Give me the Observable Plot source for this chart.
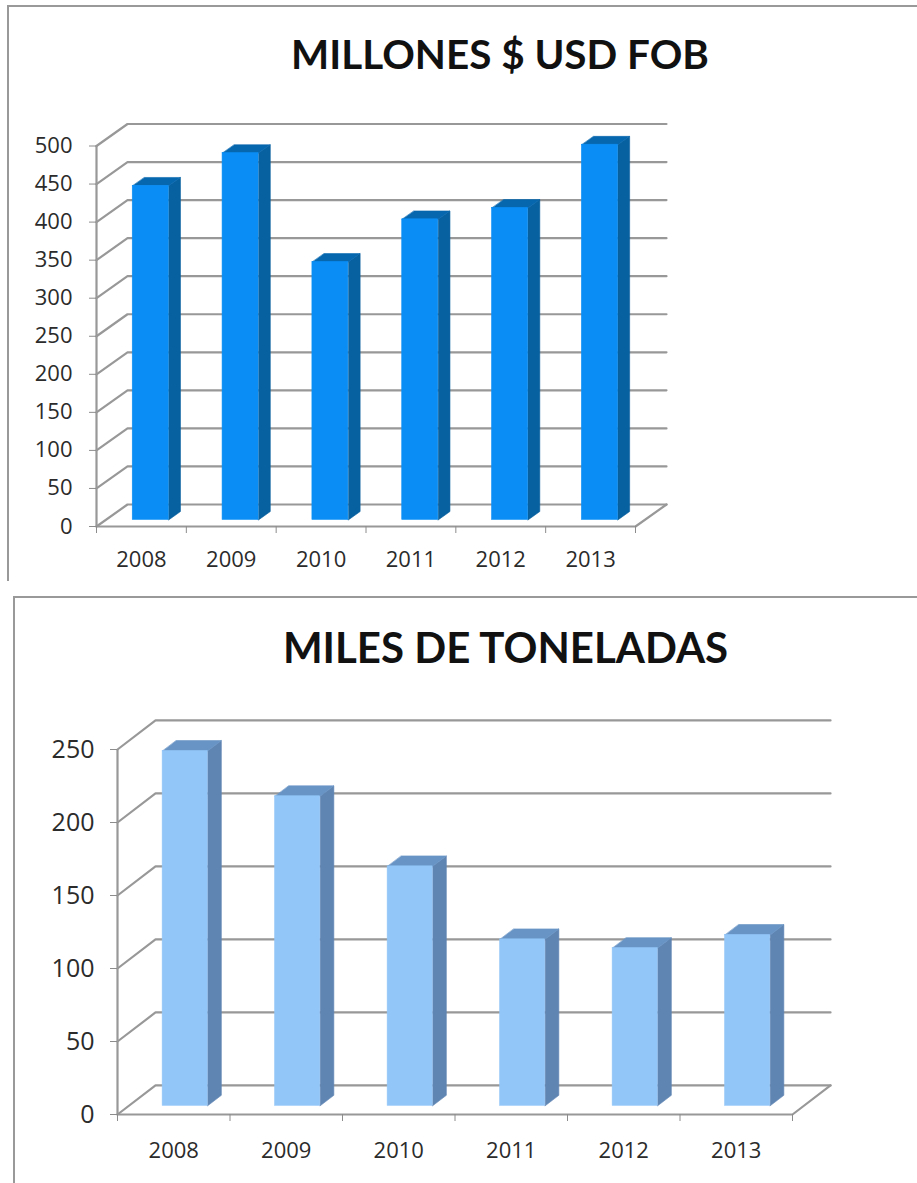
<!DOCTYPE html>
<html lang="es">
<head>
<meta charset="utf-8">
<title>Millones USD FOB y miles de toneladas</title>
<script src="https://cdn.jsdelivr.net/npm/d3@7"></script>
<script src="https://cdn.jsdelivr.net/npm/@observablehq/plot@0.6"></script>
<style>
  html, body { margin: 0; background: #fff; }
  #page { position: relative; width: 917px; height: 1183px; overflow: hidden; }
  .panel { position: absolute; box-sizing: border-box; border-left: 2px solid #999; border-top: 2px solid #999; }
  .panel-title { position: absolute; margin: 0; color: #111; font: 700 37px Lato, sans-serif; white-space: nowrap; transform: translateX(-50%); }
  .chart { position: absolute; left: 0; }
  .chart svg { display: block; }
</style>
</head>
<body>
<div id="page"></div>
<script>
const years = ["2008", "2009", "2010", "2011", "2012", "2013"];

const usdValues = [439, 482, 339, 395, 410, 493];
const usdTicks = [0, 50, 100, 150, 200, 250, 300, 350, 400, 450, 500];

const tonValues = [243, 212, 164, 114, 108, 117];
const tonTicks = [0, 50, 100, 150, 200, 250];

const page = document.getElementById("page");

// Column chart with an oblique 3D look: every face is a polygon in data units,
// with depth expressed as an offset along both scales.
function columnChart({values, ticks, top, height, marginLeft, marginRight, marginTop, marginBottom,
                      depthX, depthY, barDepth, front, side, cap, yFont, xFont, yPad, xPad}) {
  const yMax = ticks[ticks.length - 1];
  const slots = years.length;
  const barStart = 0.3, barEnd = 0.7, depthStart = 0.3;
  const near = depthStart, far = depthStart + barDepth;

  const bars = values.map((v, i) => ({i, v, year: years[i]}));
  const at = (t) => ({dx: t * depthX, dy: t * depthY});

  const sideFaces = bars.flatMap(({i, v}) => [
    {k: i, x: i + barEnd + at(near).dx, y: at(near).dy},
    {k: i, x: i + barEnd + at(far).dx, y: at(far).dy},
    {k: i, x: i + barEnd + at(far).dx, y: v + at(far).dy},
    {k: i, x: i + barEnd + at(near).dx, y: v + at(near).dy}
  ]);
  const capFaces = bars.flatMap(({i, v}) => [
    {k: i, x: i + barStart + at(near).dx, y: v + at(near).dy},
    {k: i, x: i + barEnd + at(near).dx, y: v + at(near).dy},
    {k: i, x: i + barEnd + at(far).dx, y: v + at(far).dy},
    {k: i, x: i + barStart + at(far).dx, y: v + at(far).dy}
  ]);
  const wallLines = ticks.flatMap((t) => [
    {k: t, x: 0, y: t},
    {k: t, x: depthX, y: t + depthY},
    {k: t, x: slots + depthX, y: t + depthY}
  ]);
  const floor = [
    {x: 0, y: 0}, {x: slots, y: 0}, {x: slots + depthX, y: depthY}
  ];

  const chart = Plot.plot({
    width: 917,
    height,
    marginLeft, marginRight, marginTop, marginBottom,
    style: {background: "transparent", overflow: "visible"},
    x: {type: "linear", domain: [0, slots]},
    y: {type: "linear", domain: [0, yMax]},
    marks: [
      Plot.line(wallLines, {x: "x", y: "y", z: "k", stroke: "#989898", strokeWidth: 2.2}),
      Plot.line(floor, {x: "x", y: "y", stroke: "#989898", strokeWidth: 2.2}),
      Plot.ruleX([0], {y1: 0, y2: yMax, stroke: "#989898", strokeWidth: 2.2}),
      Plot.axisY({
        ticks, tickSize: 7, tickPadding: yPad, stroke: "#8c8c8c", fill: "#2b2b2b",
        fontFamily: "'Open Sans', sans-serif", fontSize: yFont, label: null
      }),
      Plot.axisX({
        ticks: d3.range(slots + 1), tickSize: 7, stroke: "#8c8c8c",
        tickFormat: () => "", label: null
      }),
      Plot.axisX({
        ticks: years.map((_, i) => i + 0.5), tickSize: 0, tickPadding: xPad, fill: "#2b2b2b",
        tickFormat: (d) => years[Math.floor(d)],
        fontFamily: "'Open Sans', sans-serif", fontSize: xFont, label: null
      }),
      Plot.line(sideFaces, {x: "x", y: "y", z: "k", fill: side, stroke: side, strokeWidth: 0.6, curve: "linear-closed"}),
      Plot.line(capFaces, {x: "x", y: "y", z: "k", fill: cap, stroke: cap, strokeWidth: 0.6, curve: "linear-closed"}),
      Plot.rect(bars, {
        x1: (d) => d.i + barStart + at(near).dx,
        x2: (d) => d.i + barEnd + at(near).dx,
        y1: at(near).dy,
        y2: (d) => d.v + at(near).dy,
        fill: front,
        stroke: front,
        strokeWidth: 0.6
      })
    ]
  });
  const holder = document.createElement("div");
  holder.className = "chart";
  holder.style.top = top + "px";
  holder.appendChild(chart);
  return holder;
}

function addPanel(left, top, height) {
  const el = document.createElement("div");
  el.className = "panel";
  el.style.cssText = `left:${left}px;top:${top}px;width:${917 - left + 4}px;height:${height}px`;
  page.appendChild(el);
}

function addTitle(text, centerX, top, size) {
  const el = document.createElement("h2");
  el.className = "panel-title";
  el.textContent = text;
  el.style.left = centerX + "px";
  el.style.top = top + "px";
  el.style.fontSize = size + "px";
  page.appendChild(el);
}

addPanel(7, 5, 576);
addPanel(13, 596, 600);
addTitle("MILLONES $ USD FOB", 500, 29, 40.4);
addTitle("MILES DE TONELADAS", 505.5, 622, 42);

page.appendChild(columnChart({
  values: usdValues, ticks: usdTicks, top: 0, height: 590,
  marginLeft: 96, marginRight: 282, marginTop: 145.5, marginBottom: 64,
  depthX: 0.345, depthY: 28.9, barDepth: 0.38,
  front: "#0a8ef5", side: "#07609f", cap: "#0767ae",
  yFont: 22, xFont: 22, yPad: 17, xPad: 25
}));

page.appendChild(columnChart({
  values: tonValues, ticks: tonTicks, top: 590, height: 593,
  marginLeft: 117, marginRight: 125, marginTop: 159, marginBottom: 69,
  depthX: 0.338, depthY: 19.9, barDepth: 0.36,
  front: "#93c6f8", side: "#5f85b3", cap: "#6894c5",
  yFont: 25, xFont: 22, yPad: 16, xPad: 28
}));
</script>
</body>
</html>
